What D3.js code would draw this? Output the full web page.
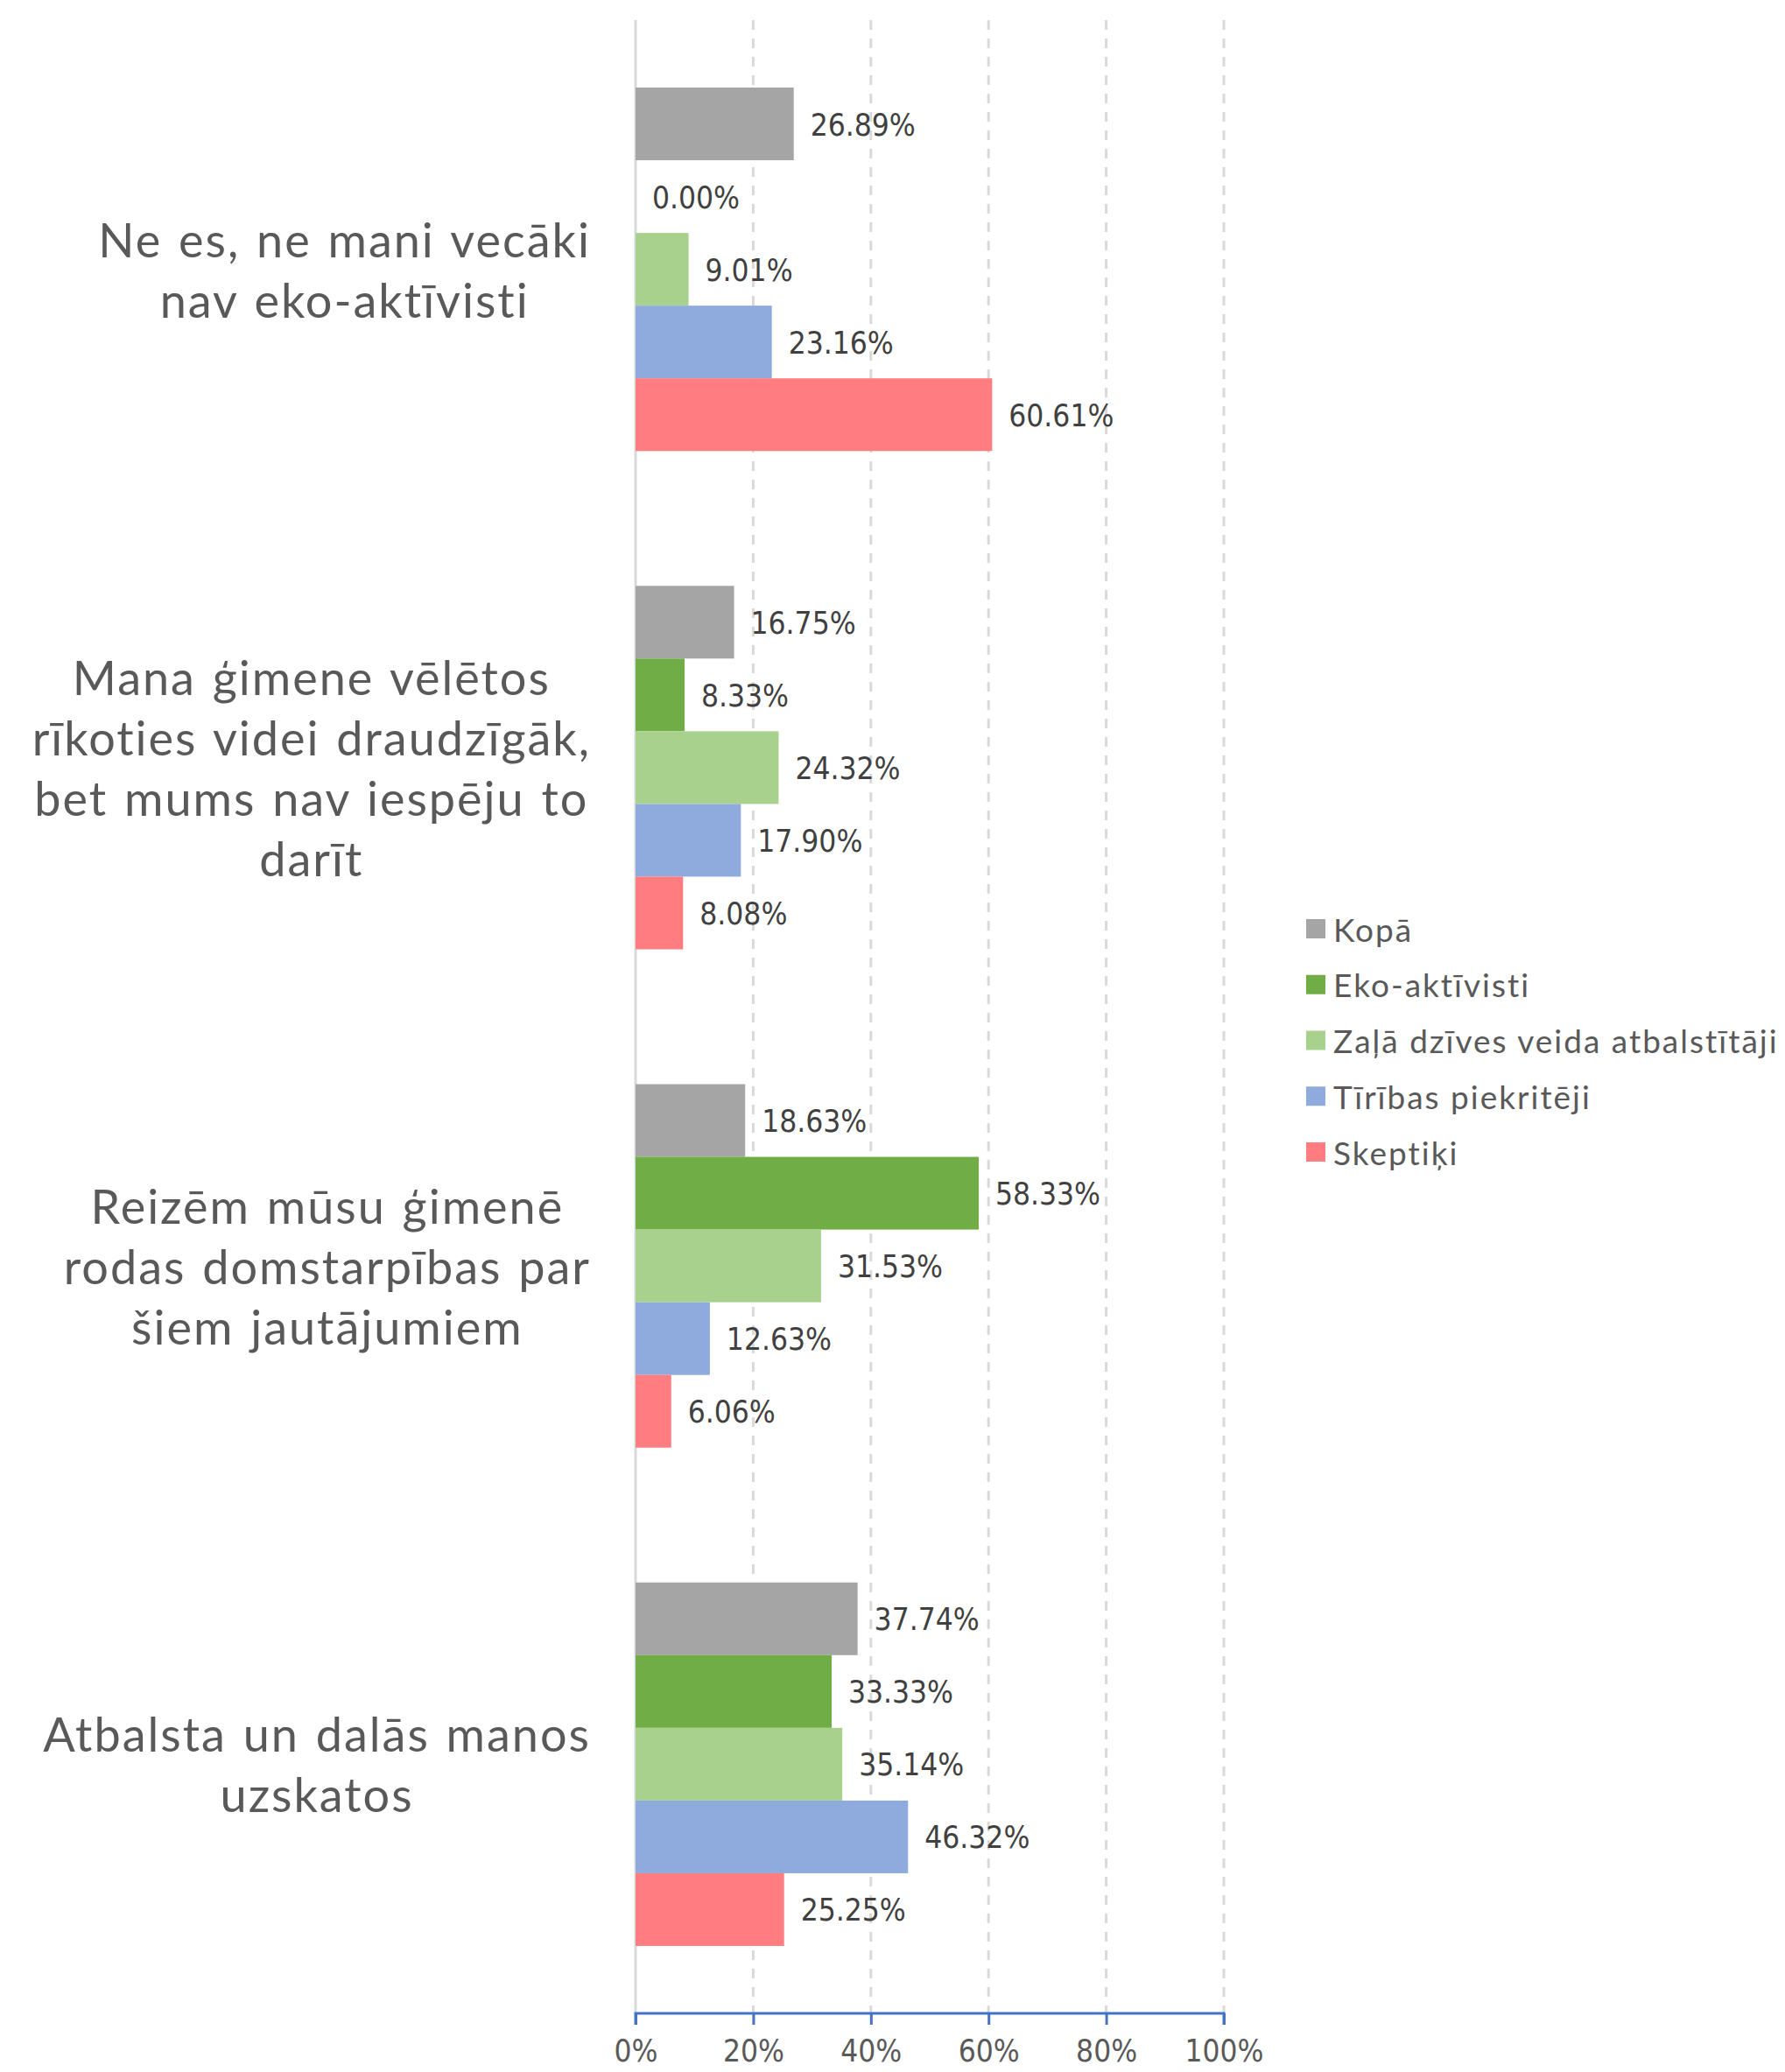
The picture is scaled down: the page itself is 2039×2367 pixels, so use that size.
<!DOCTYPE html>
<html><head><meta charset="utf-8">
<script src="https://cdn.jsdelivr.net/npm/d3@7"></script>
<style>body{margin:0;background:#fff}svg{display:block}</style>
</head><body>
<script>
const categories = [
  ["Ne es, ne mani vecāki", "nav eko-aktīvisti"],
  ["Mana ģimene vēlētos", "rīkoties videi draudzīgāk,", "bet mums nav iespēju to", "darīt"],
  ["Reizēm mūsu ģimenē", "rodas domstarpības par", "šiem jautājumiem"],
  ["Atbalsta un dalās manos", "uzskatos"]
];
const seriesNames = ["Kopā", "Eko-aktīvisti", "Zaļā dzīves veida atbalstītāji", "Tīrības piekritēji", "Skeptiķi"];
const seriesColors = ["#A5A5A5", "#70AD47", "#A9D18E", "#8FAADC", "#FF7C80"];
const kopa = [26.89, 16.75, 18.63, 37.74];
const eko = [0.00, 8.33, 58.33, 33.33];
const zala = [9.01, 24.32, 31.53, 35.14];
const tiribas = [23.16, 17.90, 12.63, 46.32];
const skeptiki = [60.61, 8.08, 6.06, 25.25];
const tickValues = [0, 20, 40, 60, 80, 100];

const W = 2039, H = 2367;
const svg = d3.select("body").append("svg").attr("width", W).attr("height", H);

const series = [kopa, eko, zala, tiribas, skeptiki];
const catIdx = categories.map((c, i) => i);

const x = d3.scaleLinear().domain([0, 100]).range([726, 1398]);
const y0 = d3.scaleBand().domain(catIdx).range([23, 2300]).padding(0);
const bw = y0.bandwidth();
const y1 = d3.scaleBand().domain(d3.range(seriesNames.length)).range([bw * 0.1353, bw * 0.8647]).padding(0);

const numFont = "'DejaVu Sans Condensed', 'DejaVu Sans', sans-serif";
const txtFont = "Lato, 'Open Sans', sans-serif";

// gridlines
svg.append("g").selectAll("line").data(tickValues.filter(t => t > 0)).join("line")
  .attr("x1", d => x(d)).attr("x2", d => x(d))
  .attr("y1", 23).attr("y2", 2300)
  .attr("stroke", "#D9D9D9").attr("stroke-width", 3)
  .attr("stroke-dasharray", "11,10");
// vertical category axis line
svg.append("line").attr("x1", x(0)).attr("x2", x(0)).attr("y1", 23).attr("y2", 2300)
  .attr("stroke", "#D9D9D9").attr("stroke-width", 3);

// bars
const groups = svg.append("g").selectAll("g").data(catIdx).join("g")
  .attr("transform", d => `translate(0,${y0(d)})`);
groups.selectAll("rect").data(ci => series.map((s, si) => ({si, v: s[ci]}))).join("rect")
  .attr("x", x(0)).attr("y", d => y1(d.si))
  .attr("width", d => x(d.v) - x(0)).attr("height", y1.bandwidth())
  .attr("fill", d => seriesColors[d.si]);
groups.selectAll("text").data(ci => series.map((s, si) => ({si, v: s[ci]}))).join("text")
  .attr("x", d => x(d.v) + 19).attr("y", d => y1(d.si) + y1.bandwidth() / 2 + 1)
  .attr("dominant-baseline", "central")
  .attr("font-family", numFont).attr("font-size", 35).attr("fill", "#404040")
  .text(d => d.v.toFixed(2) + "%");

// x axis
const xAxis = d3.axisBottom(x).tickValues(tickValues).tickSize(13).tickFormat(d => d + "%");
const ax = svg.append("g").attr("transform", "translate(0,2300)").call(xAxis);
ax.select(".domain").attr("stroke", "#4472C4").attr("stroke-width", 3).attr("d", `M${x(0)},13V0H${x(100)}V13`);
ax.selectAll(".tick line").attr("stroke", "#4472C4").attr("stroke-width", 3);
ax.selectAll(".tick text").attr("y", 43).attr("dy", "0.35em")
  .attr("font-family", numFont).attr("font-size", 35).attr("fill", "#595959");

// category labels
const lineH = 69, rightEdge = 675, catFs = 54;
const catG = svg.append("g");
categories.forEach((lines, i) => {
  const g = catG.append("g");
  const cy = y0(i) + bw / 2;
  const texts = lines.map((ln, j) => g.append("text")
    .attr("y", cy + (j - (lines.length - 1) / 2) * lineH)
    .attr("dominant-baseline", "central").attr("text-anchor", "middle")
    .attr("font-family", txtFont).attr("font-size", catFs).attr("fill", "#595959")
    .attr("letter-spacing", 2).attr("word-spacing", 3)
    .text(ln));
  const maxW = d3.max(texts, t => t.node().getBoundingClientRect().width);
  texts.forEach(t => t.attr("x", rightEdge - maxW / 2));
});

// legend
const ly = d3.scalePoint().domain(d3.range(seriesNames.length)).range([1061, 1316]);
const leg = svg.append("g").selectAll("g").data(seriesNames).join("g")
  .attr("transform", (d, i) => `translate(1492,${ly(i)})`);
leg.append("rect").attr("x", 0).attr("y", -11).attr("width", 22).attr("height", 22)
  .attr("fill", (d, i) => seriesColors[i]);
leg.append("text").attr("x", 31).attr("y", 0).attr("dominant-baseline", "central")
  .attr("font-family", txtFont).attr("font-size", 37).attr("fill", "#595959")
  .attr("letter-spacing", 2)
  .text(d => d);
</script>
</body></html>
